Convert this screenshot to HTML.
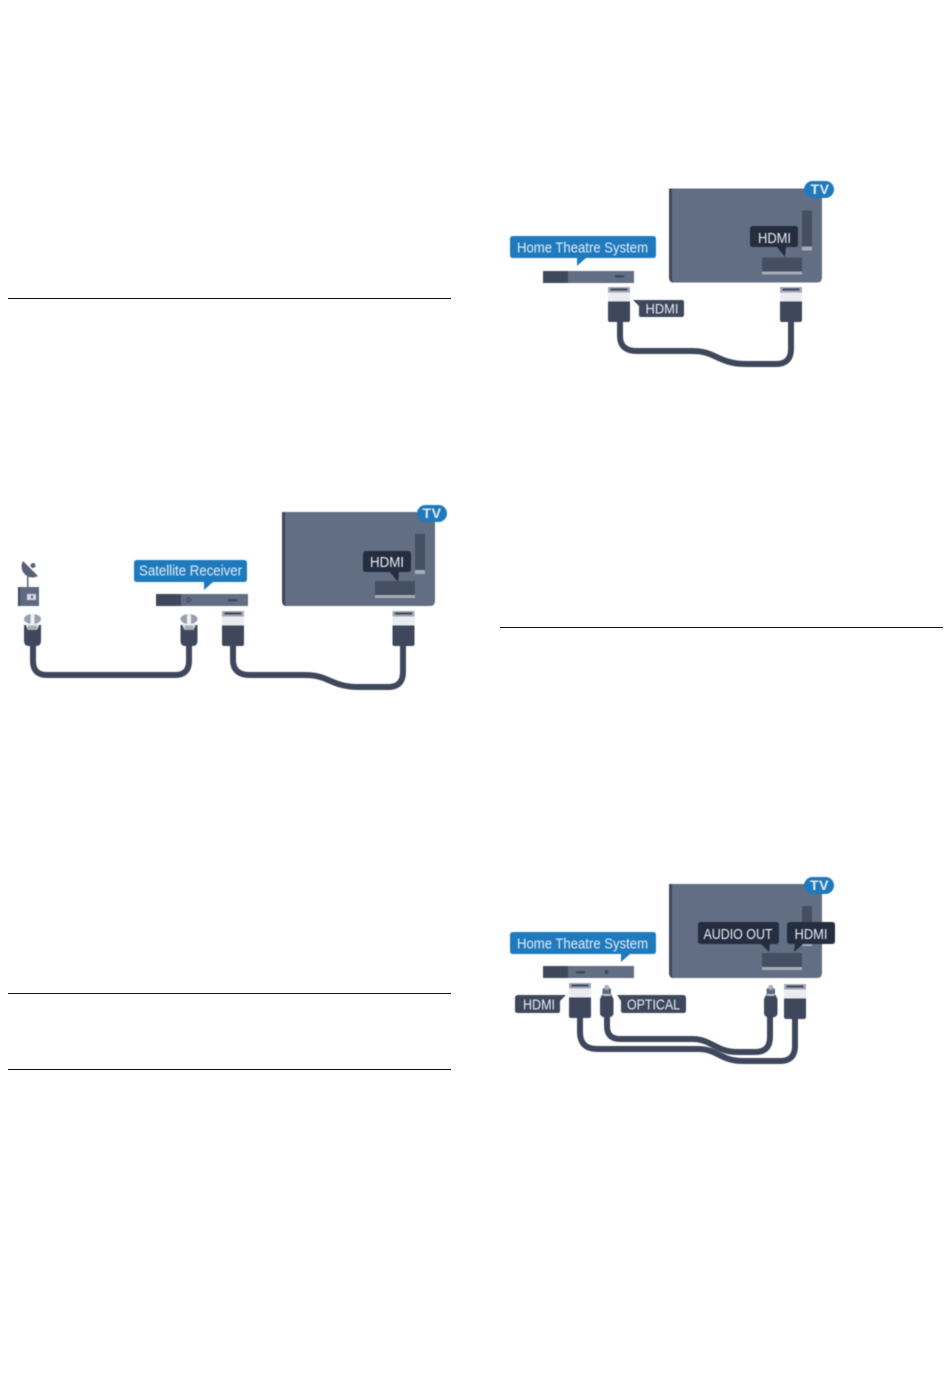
<!DOCTYPE html>
<html><head><meta charset="utf-8"><style>
html,body{margin:0;padding:0;background:#fff}
svg{display:block}
text{font-family:"Liberation Sans",sans-serif;fill:#e6eef5}
.d{filter:blur(.4px)}
</style></head><body>
<svg xmlns="http://www.w3.org/2000/svg" width="950" height="1378" viewBox="0 0 950 1378">
<rect width="950" height="1378" fill="#fff"/>
<defs>
<g id="tvbody">
<path d="M282 512H435V601Q435 606 430 606H287Q282 606 282 601Z" fill="#626e83"/>
<path d="M282 512H285V603Q285 606 288 606H287Q282 606 282 601Z" fill="#3e475b"/>
<rect x="415" y="534" width="10" height="36" fill="#454f64"/>
<rect x="415" y="570" width="10" height="4" fill="#a6adb9"/>
<rect x="375" y="581" width="40" height="14" fill="#454f64"/>
<rect x="375" y="595" width="40" height="3" fill="#a6adb9"/>
</g>
<g id="tvbadge">
<rect x="417" y="505" width="30" height="17" rx="8.500" fill="#1f79bd"/>
</g>
<g id="hplug">
<rect x="0" y="0" width="22" height="5.500" fill="#a0a7b4"/>
<rect x="2.500" y="1.500" width="17" height="2" fill="#3e475b"/>
<rect x="0" y="5.500" width="22" height="9" fill="#eaecef"/>
<path d="M0 14.500H22V33Q22 35 20 35H2Q0 35 0 33Z" fill="#3e475b"/>
</g>
<g id="cplug">
<path d="M0 13H17V29Q17 34 12 34H5Q0 34 0 29Z" fill="#3e475b"/>
<path d="M1 11H16L13 18H4Z" fill="#eceef0"/>
<rect x="4" y="13.500" width="9" height="4.500" fill="#a9afba"/>
<ellipse cx="8.500" cy="7" rx="8.500" ry="5" fill="#989fad"/>
<rect x="6.500" y="1.500" width="4" height="11" fill="#eef0f2"/>
</g>
<g id="oplug">
<path d="M2 10H11.500L13.500 14V28Q13.500 32.500 7 32.500Q0 32.500 0 28V14Z" fill="#3e475b"/>
<rect x="2.500" y="3" width="8.500" height="8" rx="2" fill="#5d687c"/>
<rect x="4.500" y="0" width="4.500" height="5" rx="2" fill="#a7adb9"/>
<rect x="3" y="9" width="7.500" height="2" fill="#c4c8d0"/>
</g>
</defs>

<!-- rules -->
<g fill="#111">
<rect x="8" y="298" width="443" height="1"/>
<rect x="8" y="993" width="443" height="1"/>
<rect x="8" y="1069" width="443" height="1"/>
<rect x="500" y="627" width="443" height="1"/>
</g>

<g class="d">
<!-- DIAGRAM 1 -->
<use href="#tvbody"/>
<use href="#tvbadge"/>
<text x="432" y="518" font-size="14" font-weight="bold" text-anchor="middle" letter-spacing=".5">TV</text>
<path d="M366 551H408Q411 551 411 554V569Q411 572 408 572H399L398 582L390 572H366Q363 572 363 569V554Q363 551 366 551Z" fill="#252d40"/>
<text x="387" y="567" font-size="15" text-anchor="middle" textLength="34" lengthAdjust="spacingAndGlyphs">HDMI</text>

<!-- dish -->
<path d="M23 561A11 11 0 0 0 38 576Z" fill="#566176"/>
<circle cx="33" cy="565.500" r="2.500" fill="#566176"/>
<rect x="27" y="572" width="1.500" height="15" fill="#5a657a"/>
<rect x="18" y="587" width="21" height="19" fill="#5f6a80"/>
<rect x="18" y="587" width="2" height="19" fill="#3e475b"/>
<rect x="27" y="594" width="9" height="6" fill="#d8dbe1"/>
<rect x="31" y="595.500" width="2" height="3" fill="#5f6a80"/>

<!-- receiver -->
<path d="M137 560H244Q247 560 247 563V579Q247 582 244 582H213L204 590L204 582H137Q134 582 134 579V563Q134 560 137 560Z" fill="#1f79bd"/>
<text x="190.500" y="575.500" font-size="14.500" text-anchor="middle" textLength="103" lengthAdjust="spacingAndGlyphs">Satellite Receiver</text>
<rect x="156" y="594" width="92" height="12" fill="#626e83"/>
<rect x="156" y="594" width="25" height="12" fill="#3e475b"/>
<circle cx="188.500" cy="600" r="2" fill="none" stroke="#3e475b" stroke-width="1"/>
<rect x="228" y="599" width="9" height="2.500" fill="#3e475b"/>

<g fill="none" stroke="#3e475b" stroke-width="6">
<path d="M33 645V661Q33 675 47 675H175Q189 675 189 661V645"/>
<path d="M233 645V660Q233 675 250 675H305C330 675 330 687 360 687H388Q403 687 403 672V645"/>
</g>
<use href="#cplug" x="24" y="612"/>
<use href="#cplug" x="180.500" y="612"/>
<use href="#hplug" x="222" y="611"/>
<use href="#hplug" x="392.500" y="611"/>

<!-- DIAGRAM 2 -->
<use href="#tvbody" x="387" y="-323.500"/>
<use href="#tvbadge" x="387" y="-324"/>
<text x="820" y="194" font-size="14" font-weight="bold" text-anchor="middle" letter-spacing=".5">TV</text>
<path d="M753 226H795Q798 226 798 229V244Q798 247 795 247H786L785 257L777 247H753Q750 247 750 244V229Q750 226 753 226Z" fill="#252d40"/>
<text x="774.500" y="243" font-size="15" text-anchor="middle" textLength="33" lengthAdjust="spacingAndGlyphs">HDMI</text>

<path d="M513 236H653Q656 236 656 239V255Q656 258 653 258H586L577 266L577 258H513Q510 258 510 255V239Q510 236 513 236Z" fill="#1f79bd"/>
<text x="582.500" y="252.500" font-size="15" text-anchor="middle" textLength="131" lengthAdjust="spacingAndGlyphs">Home Theatre System</text>
<rect x="543" y="271" width="91" height="12" fill="#626e83"/>
<rect x="543" y="271" width="25" height="12" fill="#3e475b"/>
<rect x="615" y="275" width="9" height="2.500" fill="#3e475b"/>

<path d="M633 300H682Q684 300 684 302V315Q684 317 682 317H641Q639 317 639 315V306Z" fill="#3e475b"/>
<text x="662" y="313.500" font-size="14" text-anchor="middle" textLength="33" lengthAdjust="spacingAndGlyphs">HDMI</text>

<g fill="none" stroke="#3e475b" stroke-width="6">
<path d="M620 321V336Q620 351 637 351H692C717 351 717 364 747 364H776Q791 364 791 349V321"/>
</g>
<use href="#hplug" x="608" y="287"/>
<use href="#hplug" x="780" y="287"/>

<!-- DIAGRAM 3 -->
<use href="#tvbody" x="387" y="372"/>
<use href="#tvbadge" x="387" y="372"/>
<text x="819.500" y="890" font-size="14" font-weight="bold" text-anchor="middle" letter-spacing=".5">TV</text>

<path d="M701 922H776Q779 922 779 925V941Q779 944 776 944H770L769 952L761 944H701Q698 944 698 941V925Q698 922 701 922Z" fill="#252d40"/>
<text x="738" y="939" font-size="15" text-anchor="middle" textLength="69" lengthAdjust="spacingAndGlyphs">AUDIO OUT</text>
<path d="M790 922H832Q835 922 835 925V941Q835 944 832 944H803L794 952L795 944H790Q787 944 787 941V925Q787 922 790 922Z" fill="#252d40"/>
<text x="811" y="939" font-size="15" text-anchor="middle" textLength="33" lengthAdjust="spacingAndGlyphs">HDMI</text>

<path d="M513 932H653Q656 932 656 935V951Q656 954 653 954H630L621 962L621 954H513Q510 954 510 951V935Q510 932 513 932Z" fill="#1f79bd"/>
<text x="582.500" y="948.500" font-size="15" text-anchor="middle" textLength="131" lengthAdjust="spacingAndGlyphs">Home Theatre System</text>
<rect x="543" y="966" width="91" height="12" fill="#626e83"/>
<rect x="543" y="966" width="25" height="12" fill="#3e475b"/>
<rect x="576" y="971" width="9" height="2.500" fill="#3e475b"/>
<rect x="605" y="970" width="3" height="4" fill="#3e475b"/>

<path d="M518 995H566L560 1001V1011Q560 1013 558 1013H518Q515 1013 515 1011V998Q515 995 518 995Z" fill="#3e475b"/>
<text x="539" y="1009.500" font-size="14.500" text-anchor="middle" textLength="32" lengthAdjust="spacingAndGlyphs">HDMI</text>
<path d="M617 995H683Q686 995 686 998V1011Q686 1013 683 1013H624Q621 1013 621 1011V1001Z" fill="#3e475b"/>
<text x="653.500" y="1009.500" font-size="14.500" text-anchor="middle" textLength="53" lengthAdjust="spacingAndGlyphs">OPTICAL</text>

<g fill="none" stroke="#3e475b" stroke-width="6">
<path d="M607 1016V1026Q607 1039 620 1039H692C712 1039 715 1052 738 1052H755Q770 1052 770 1037V1016"/>
<path d="M580 1017V1032Q580 1049 597 1049H698C718 1049 720 1061 743 1061H780Q795 1061 795 1046V1018"/>
</g>
<use href="#hplug" x="569" y="983"/>
<use href="#oplug" x="600" y="985"/>
<use href="#oplug" x="764" y="985"/>
<use href="#hplug" x="784" y="984"/>
</g>
</svg>
</body></html>
